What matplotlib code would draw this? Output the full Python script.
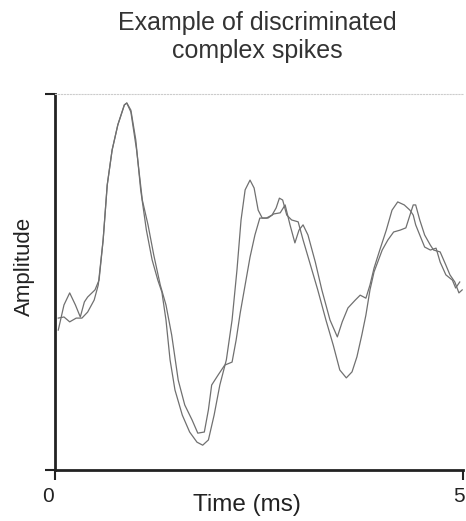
import numpy as np
import matplotlib.pyplot as plt
from matplotlib.transforms import ScaledTranslation

plt.rcParams['font.family'] = ['Liberation Sans', 'DejaVu Sans']

# two overlaid complex spike waveforms (time in ms, amplitude in arbitrary units)
t1 = [0.04, 0.11, 0.18, 0.25, 0.31, 0.36, 0.40, 0.49, 0.54, 0.59, 0.64, 0.70, 0.77,
      0.85, 0.88, 0.93, 0.99, 1.05, 1.12, 1.19, 1.26, 1.31, 1.36, 1.41, 1.47, 1.56,
      1.65, 1.74, 1.81, 1.88, 1.95, 2.02, 2.10, 2.17, 2.23, 2.28, 2.33, 2.39, 2.44,
      2.49, 2.54, 2.61, 2.68, 2.76, 2.82, 2.88, 2.94, 2.99, 3.04, 3.10, 3.19, 3.27,
      3.37, 3.46, 3.52, 3.59, 3.68, 3.74, 3.81, 3.86, 3.91, 3.98, 4.06, 4.13, 4.20,
      4.28, 4.35, 4.39, 4.42, 4.47, 4.53, 4.60, 4.67, 4.72, 4.79, 4.87, 4.91, 4.96]
a1 = [37.2, 43.9, 47.1, 43.9, 40.7, 44.7, 46.0, 47.9, 50.5, 61.2, 75.8, 85.1, 91.8,
      97.1, 97.6, 95.7, 87.8, 74.5, 63.8, 55.9, 50.5, 47.3, 39.9, 29.3, 21.3, 14.6,
      10.1, 7.4, 6.6, 8.0, 14.6, 22.6, 29.3, 39.9, 53.2, 66.5, 74.5, 77.1, 75.0,
      69.1, 67.0, 67.0, 68.1, 68.4, 70.5, 65.2, 60.4, 63.8, 65.2, 62.5, 55.3, 47.9,
      39.9, 35.4, 39.4, 43.1, 45.2, 46.5, 45.7, 49.2, 53.7, 58.5, 63.8, 69.1, 71.3,
      70.5, 69.1, 67.8, 65.2, 62.5, 59.3, 58.5, 59.0, 55.3, 51.9, 50.5, 48.4, 50.0]

t2 = [0.04, 0.11, 0.18, 0.26, 0.33, 0.40, 0.48, 0.53, 0.59, 0.64, 0.70, 0.77, 0.85,
      0.88, 0.93, 1.00, 1.07, 1.14, 1.21, 1.29, 1.36, 1.43, 1.51, 1.59, 1.68, 1.75,
      1.83, 1.88, 1.92, 2.00, 2.08, 2.17, 2.22, 2.27, 2.33, 2.39, 2.45, 2.51, 2.59,
      2.66, 2.71, 2.75, 2.79, 2.84, 2.90, 2.98, 3.04, 3.12, 3.22, 3.32, 3.41, 3.49,
      3.57, 3.64, 3.70, 3.76, 3.81, 3.86, 3.91, 4.01, 4.08, 4.15, 4.23, 4.30, 4.35,
      4.39, 4.42, 4.47, 4.53, 4.60, 4.64, 4.72, 4.79, 4.84, 4.90, 4.95, 4.99]
a2 = [40.4, 40.7, 39.4, 40.4, 40.4, 42.0, 45.2, 49.2, 61.2, 75.8, 85.1, 91.8, 97.1,
      97.6, 95.2, 85.1, 71.8, 65.2, 57.2, 49.2, 43.9, 35.9, 23.9, 17.3, 13.3, 9.8,
      10.1, 16.0, 22.6, 25.3, 27.9, 28.7, 34.6, 41.8, 49.2, 56.6, 62.5, 67.0, 67.0,
      67.8, 69.7, 72.3, 71.8, 67.8, 66.5, 66.0, 61.2, 55.3, 47.9, 39.9, 33.2, 26.6,
      24.5, 26.1, 30.1, 35.9, 41.2, 47.9, 52.7, 58.5, 61.2, 63.3, 63.8, 64.4, 67.8,
      70.5, 70.5, 66.5, 62.5, 59.8, 58.5, 58.0, 54.5, 51.9, 50.0, 47.1, 47.9]

W, H = 466, 521
fig = plt.figure(figsize=(W/100, H/100), dpi=100)
ax = fig.add_axes([55/W, 1-470/H, 408/W, 376/H])

ax.plot(t1, a1, color='#707070', lw=0.9)
ax.plot(t2, a2, color='#707070', lw=0.9)

ax.set_xlim(0, 5)
ax.set_ylim(0, 100)
ax.set_xticks([0, 5])
ax.set_xticklabels(['0', '5'])
ax.set_yticks([0, 100])
ax.set_yticklabels([])
ax.tick_params(direction='out', length=7, width=1.5, labelsize=15, pad=5, colors='#222222')

# nudge the tick labels a bit to the left like in the original
for lab, dx in zip(ax.get_xticklabels(), [-7, -4]):
    lab.set_transform(lab.get_transform() + ScaledTranslation(dx/100, 0, fig.dpi_scale_trans))

for s in ['left', 'bottom']:
    ax.spines[s].set_linewidth(2)
    ax.spines[s].set_color('#222222')
ax.spines['top'].set_linestyle(':')
ax.spines['top'].set_color('#cccccc')
ax.spines['top'].set_linewidth(0.8)
ax.spines['right'].set_visible(False)

fig.text(247/W, 1-505/H, 'Time (ms)', ha='center', va='center', fontsize=17.5, color='#222222')
fig.text(24/W, 1-266/H, 'Amplitude', ha='center', va='center', rotation=90,
         fontsize=16, color='#222222')
fig.text(257/W, 1-37/H, 'Example of discriminated\ncomplex spikes', ha='center', va='center',
         fontsize=18, linespacing=1.2, color='#333333')

fig.savefig('out.png', dpi=100)
